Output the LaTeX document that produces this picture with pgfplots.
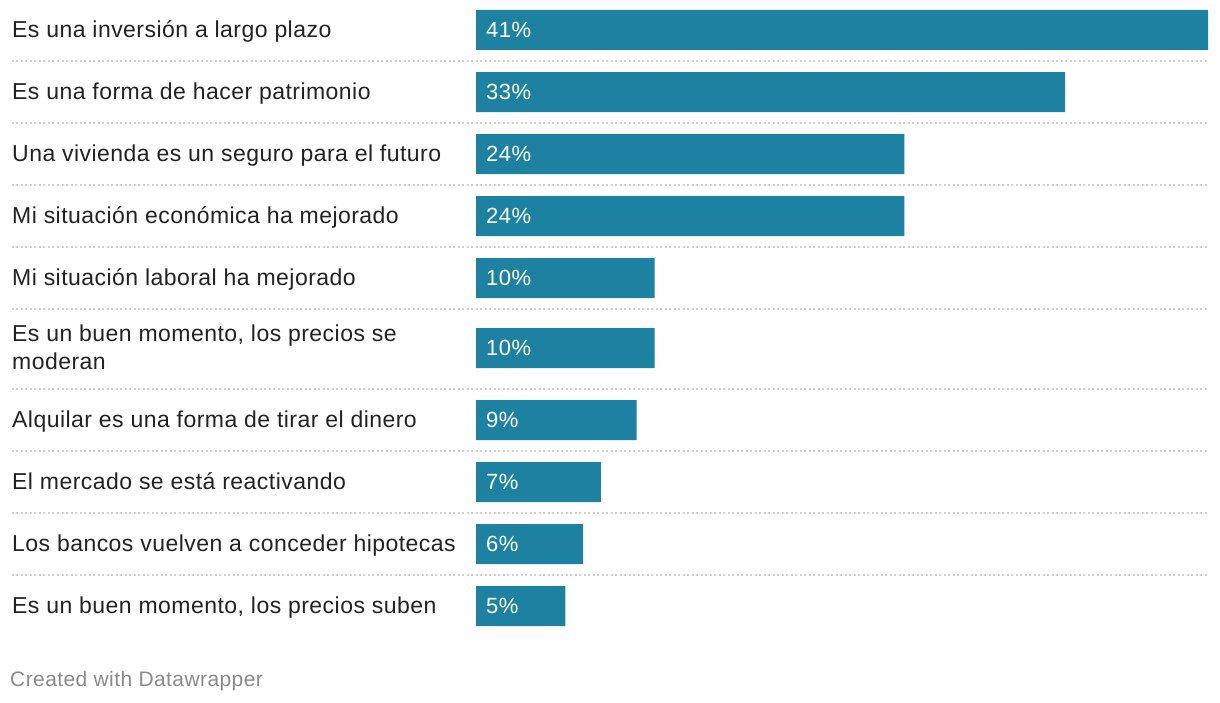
\documentclass[border=0pt]{standalone}
\usepackage{pgfplots}
\pgfplotsset{compat=1.18}
\usepackage{fontspec}
\setmainfont{Liberation Sans}[LetterSpace=2]
\definecolor{barblue}{HTML}{1D81A2}
\definecolor{labeltext}{HTML}{222222}
\definecolor{sepgray}{HTML}{D0D0D0}
\definecolor{footgray}{HTML}{8A8A8A}
\begin{document}
\begin{tikzpicture}
\begin{axis}[
  scale only axis,
  width=1220bp, height=702bp,
  xmin=-26.661, xmax=41.672,
  ymin=0, ymax=702, y dir=reverse,
  hide axis, clip=false,
  /pgf/number format/assume math mode=true,
]
\draw[draw=none] (rel axis cs:0,0) rectangle (rel axis cs:1,1);
% separators
\foreach \yy in {61,123,185,247,309,389,451,513,575}{
  \edef\temp{\noexpand\draw[sepgray, line width=1.5bp, dash pattern=on 2bp off 2.5bp] (axis cs:-25.989,\yy) -- (axis cs:41,\yy);}
  \temp
}
\addplot[xbar, bar width=40, fill=barblue, draw=none, bar shift=0pt] coordinates {
(41,30) (33,92) (24,154) (24,216) (10,278) (10,348) (9,420) (7,482) (6,544) (5,606)};
\addplot[draw=none, mark=none, point meta=explicit,
  nodes near coords={\pgfmathprintnumber{\pgfplotspointmeta}\%},
  every node near coord/.append style={anchor=base west, text=white, font=\fontsize{22bp}{26bp}\selectfont, inner sep=0pt, xshift=10bp}]
coordinates {(0,37.5) [41] (0,99.5) [33] (0,161.5) [24] (0,223.5) [24] (0,285.5) [10] (0,355.5) [10] (0,427.5) [9] (0,489.5) [7] (0,551.5) [6] (0,613.5) [5]};
\begin{scope}[every node/.style={anchor=base west, inner sep=0pt, text=labeltext, font=\fontsize{23bp}{28bp}\selectfont}]
\node at (axis cs:-25.989,37.5) {Es una inversión a largo plazo};
\node at (axis cs:-25.989,99.5) {Es una forma de hacer patrimonio};
\node at (axis cs:-25.989,161.5) {Una vivienda es un seguro para el futuro};
\node at (axis cs:-25.989,223.5) {Mi situación económica ha mejorado};
\node at (axis cs:-25.989,285.5) {Mi situación laboral ha mejorado};
\node at (axis cs:-25.989,341) {Es un buen momento, los precios se};
\node at (axis cs:-25.989,369) {moderan};
\node at (axis cs:-25.989,427.5) {Alquilar es una forma de tirar el dinero};
\node at (axis cs:-25.989,489.5) {El mercado se está reactivando};
\node at (axis cs:-25.989,551.5) {Los bancos vuelven a conceder hipotecas};
\node at (axis cs:-25.989,613.5) {Es un buen momento, los precios suben};
\node[text=footgray, font=\fontsize{21bp}{24bp}\selectfont] at (axis cs:-26.101,686) {Created with Datawrapper};
\end{scope}
\end{axis}
\end{tikzpicture}
\end{document}
